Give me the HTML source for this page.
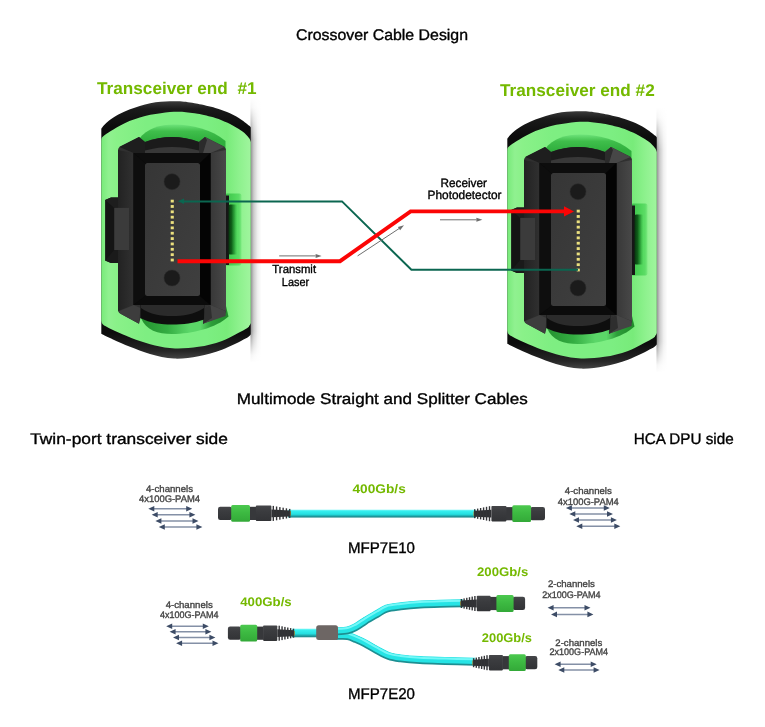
<!DOCTYPE html>
<html><head><meta charset="utf-8"><title>Crossover Cable Design</title>
<style>
html,body{margin:0;padding:0;background:#fff;}
svg{display:block;will-change:transform;font-family:"Liberation Sans",sans-serif;}
text{text-rendering:geometricPrecision;}
</style></head><body>
<svg width="765" height="727" viewBox="0 0 765 727">
<defs>
<linearGradient id="gbody" x1="0" y1="0" x2="0" y2="1"><stop offset="0" stop-color="#454649"/><stop offset="0.35" stop-color="#3b3c3f"/><stop offset="1" stop-color="#323336"/></linearGradient>
<linearGradient id="ggreen" x1="0" y1="0" x2="0" y2="1"><stop offset="0" stop-color="#4cc94f"/><stop offset="0.45" stop-color="#3dba42"/><stop offset="1" stop-color="#33a938"/></linearGradient>
<linearGradient id="gcable" x1="0" y1="0" x2="0" y2="1"><stop offset="0" stop-color="#7af7f7"/><stop offset="0.2" stop-color="#35eeee"/><stop offset="0.58" stop-color="#25dfe0"/><stop offset="0.74" stop-color="#1fb6b9"/><stop offset="0.88" stop-color="#1d9194"/><stop offset="1" stop-color="#2a8c8e"/></linearGradient>
<linearGradient id="gshadow" x1="0" y1="0" x2="1" y2="0"><stop offset="0" stop-color="#000" stop-opacity="0.45"/><stop offset="0.3" stop-color="#000" stop-opacity="0.2"/><stop offset="0.65" stop-color="#000" stop-opacity="0.06"/><stop offset="1" stop-color="#000" stop-opacity="0"/></linearGradient>
<linearGradient id="gshv" x1="0" y1="0" x2="0" y2="1"><stop offset="0" stop-color="#fff" stop-opacity="1"/><stop offset="0.04" stop-color="#fff" stop-opacity="0.9"/><stop offset="0.16" stop-color="#fff" stop-opacity="0"/><stop offset="0.88" stop-color="#fff" stop-opacity="0"/><stop offset="0.97" stop-color="#fff" stop-opacity="0.9"/><stop offset="1" stop-color="#fff" stop-opacity="1"/></linearGradient>
<linearGradient id="gshell" x1="0" y1="0" x2="0" y2="1"><stop offset="0" stop-color="#3a3a3a"/><stop offset="0.03" stop-color="#1a1a1a"/><stop offset="0.1" stop-color="#0c0c0c"/><stop offset="0.9" stop-color="#0c0c0c"/><stop offset="0.97" stop-color="#262626"/><stop offset="1" stop-color="#444"/></linearGradient>
<linearGradient id="gdk1" x1="0" y1="0" x2="0" y2="1"><stop offset="0" stop-color="#6ee37a"/><stop offset="0.25" stop-color="#3fbe4b"/><stop offset="0.6" stop-color="#2fae3d"/></linearGradient>
<linearGradient id="gdk2" x1="0" y1="0" x2="1" y2="0"><stop offset="0" stop-color="#23902f"/><stop offset="0.3" stop-color="#34ad42"/><stop offset="0.55" stop-color="#5bd668"/><stop offset="0.68" stop-color="#5bd668"/><stop offset="0.8" stop-color="#2c9e39"/><stop offset="1" stop-color="#1f8a2a"/></linearGradient>
<linearGradient id="gnotchR" x1="0" y1="0" x2="1" y2="0"><stop offset="0" stop-color="#07350e" stop-opacity="1"/><stop offset="0.35" stop-color="#0d5a17" stop-opacity="0.95"/><stop offset="0.65" stop-color="#1f8a2c" stop-opacity="0.7"/><stop offset="1" stop-color="#3dbb4c" stop-opacity="0"/></linearGradient><linearGradient id="gnotchB" x1="0" y1="0" x2="1" y2="0"><stop offset="0" stop-color="#3cc04a"/><stop offset="0.6" stop-color="#4fd65a"/><stop offset="0.85" stop-color="#5cdc66"/><stop offset="1" stop-color="#7cea80"/></linearGradient>
<linearGradient id="gbevL" x1="0" y1="0" x2="1" y2="0"><stop offset="0" stop-color="#222"/><stop offset="1" stop-color="#303030"/></linearGradient>
<linearGradient id="gbevR" x1="0" y1="0" x2="1" y2="0"><stop offset="0" stop-color="#383838"/><stop offset="1" stop-color="#484848"/></linearGradient>
<linearGradient id="gfer" x1="0" y1="0" x2="1" y2="1"><stop offset="0" stop-color="#363636"/><stop offset="1" stop-color="#3f3f3f"/></linearGradient>
<linearGradient id="ggr1" x1="0" y1="0" x2="1" y2="0"><stop offset="0" stop-color="#78ea7a"/><stop offset="0.05" stop-color="#90f190"/><stop offset="0.1" stop-color="#8af189"/><stop offset="0.3" stop-color="#7eee82"/><stop offset="0.7" stop-color="#7cee82"/><stop offset="0.84" stop-color="#78eb7a"/><stop offset="0.92" stop-color="#8df18d"/><stop offset="1" stop-color="#a0f59e"/></linearGradient>

<g id="conn">
<rect x="250.5" y="98" width="11" height="264" fill="url(#gshadow)"/>
<rect x="250" y="97" width="12" height="266" fill="url(#gshv)"/>
<path d="M101.3,129.0 C101.5,128.7 101.0,128.7 102.2,127.4 C103.4,126.1 105.7,123.3 108.5,121.1 C111.3,118.9 115.4,116.2 118.9,114.3 C122.4,112.4 125.9,111.0 129.4,109.6 C132.9,108.2 136.3,107.0 139.8,105.9 C143.3,104.9 146.8,104.0 150.3,103.3 C153.8,102.6 157.4,102.1 160.7,101.8 C164.0,101.5 166.8,101.3 170.0,101.2 C173.2,101.1 177.0,101.1 180.0,101.3 C183.0,101.5 185.1,101.8 188.0,102.2 C190.9,102.6 193.0,102.8 197.6,103.8 C202.2,104.8 210.4,106.5 215.3,107.9 C220.2,109.3 223.1,110.3 227.0,112.0 C230.9,113.7 235.1,115.6 238.8,117.9 C242.5,120.2 247.4,124.1 249.4,125.8 C251.4,127.5 250.6,127.6 250.8,128.0 L250.8,334.4 C249.9,335.1 250.4,335.9 245.6,338.5 C240.8,341.1 229.8,346.8 222.0,349.7 C214.2,352.6 206.5,354.7 198.5,356.2 C190.5,357.7 182.1,359.0 174.0,358.6 C165.9,358.2 157.3,356.0 150.0,354.0 C142.7,352.0 136.2,349.2 130.0,346.8 C123.8,344.4 117.8,341.7 113.0,339.5 C108.2,337.3 103.2,334.8 101.3,333.8 Z" fill="url(#gshell)"/>
<path d="M101.3,141.0 C101.5,140.4 101.0,138.7 102.2,137.3 C103.4,135.9 105.7,134.4 108.5,132.6 C111.3,130.8 115.4,128.2 118.9,126.3 C122.4,124.4 125.9,122.6 129.4,121.1 C132.9,119.6 136.3,118.5 139.8,117.4 C143.3,116.4 146.8,115.5 150.3,114.8 C153.8,114.1 157.4,113.8 160.7,113.3 C164.0,112.8 166.8,112.3 170.0,112.0 C173.2,111.7 177.0,111.6 180.0,111.7 C183.0,111.8 185.1,112.1 188.0,112.4 C190.9,112.8 193.0,112.9 197.6,113.8 C202.2,114.7 210.4,116.4 215.3,117.9 C220.2,119.4 223.1,120.7 227.0,122.6 C230.9,124.5 235.7,127.1 238.8,129.1 C242.0,131.1 244.1,132.8 245.9,134.4 C247.7,136.0 248.6,137.2 249.4,138.5 C250.2,139.8 250.6,141.4 250.8,142.0 L250.8,323 C250.6,323.4 250.4,324.5 249.5,325.5 C248.6,326.5 250.2,326.4 245.6,329.0 C241.0,331.6 229.8,337.9 222.0,340.9 C214.2,343.9 206.3,345.6 198.5,346.8 C190.7,348.1 182.2,348.6 175.0,348.4 C167.8,348.2 161.5,346.9 155.0,345.5 C148.5,344.1 142.1,341.9 136.0,339.8 C129.9,337.7 123.3,334.7 118.5,332.6 C113.7,330.5 109.7,328.4 107.0,327.0 C104.3,325.6 103.5,325.1 102.5,324.0 C101.5,322.9 101.5,321.1 101.3,320.5 Z" fill="url(#ggr1)"/>
<path d="M139,139 C147,128.500 160,124.500 174,124.500 C192,124.500 212,129.500 225.500,141 L225.500,152 L139,152 Z" fill="url(#gdk1)"/>
<path d="M141,318 C146,330.500 158,334 172,334 C192,334 216,328 228.500,316.500 L226,306 L141,306 Z" fill="url(#gdk2)"/>
<rect x="225" y="193.500" width="16.500" height="72" rx="2" fill="url(#gnotchB)"/>
<rect x="225" y="195.500" width="4" height="69.500" fill="#161616"/>
<rect x="228.500" y="204.500" width="9" height="50" rx="1.500" fill="url(#gnotchR)"/>
<path d="M105.100,200 L111,197.400 L119,197.400 V263 L111,263 L105.100,260.500 Z" fill="#141414"/>
<path d="M105.100,200 L111,197.400 L119,197.400 L119,207.900 L114.200,207.900 Z" fill="#1d1d1d"/>
<path d="M105.100,260.500 L111,263 L119,263 L119,250 L114.200,250 Z" fill="#1a1a1a"/>
<path d="M118,150.500 Q118,147.500 121,146 L139,137 L145,142 C154,138.500 163,137 172,137 C181,137 190,138.500 199,142 L205,137 L223,146 Q226,147.500 226,150.500 V310.500 Q226,314 223,315.200 L203,323.800 L204,318 C194,321 183,322.500 172,322.500 C161,322.500 150,321 140.500,318 L139,323.800 L121,314 Q118,312.500 118,309.500 Z" fill="#303030"/>
<path d="M118,150 L133.500,153 V305 L118,311 Z" fill="url(#gbevL)"/>
<path d="M226,150 L210.500,153 V305 L226,311 Z" fill="url(#gbevR)"/>
<path d="M139,137 L145,142 L145,153 L133.500,153 L119.500,147 Z" fill="#1e1e1e"/>
<path d="M205,137 L199,142 L199,153 L210.500,153 L224.500,147 Z" fill="#474747"/>
<path d="M205,137 L199,142 L199,153 L203,153 L207,140 Z" fill="#2b2b2b"/>
<path d="M139,323.800 L140.500,308 L133.500,305 L118.500,311.500 L121,314 Z" fill="#3d3d3d"/>
<path d="M203,323.800 L204.400,308 L210.500,305 L225.600,311 L225.600,316 Z" fill="#444"/>
<path d="M203,323.800 L204.400,308 L210.500,305 L212,318 Z" fill="#2e2e2e"/>
<path d="M145,142 C154,138.500 163,137 172,137 C181,137 190,138.500 199,142 L199,153 L145,153 Z" fill="#1b1b1b"/>
<path d="M145,150.500 C154,148 163,147 172,147 C181,147 190,148 199,150.500 L199,153.500 L145,153.500 Z" fill="#383838"/>
<path d="M140.500,318 C150,323 161,324.600 172,324.600 C183,324.600 194,323.500 204,319.500 L204.400,305 L140.500,305 Z" fill="#0e0e0e"/>
<path d="M141,308 C150,314.500 161,316 172,316 C183,316 194,314.500 204,308 L204,305 L141,305 Z" fill="#2b2b2b"/>
<rect x="133.500" y="153" width="77" height="152" fill="#060606"/>
<path d="M133.500,153 L210.500,153 L200,163 L145,163 Z" fill="#0d0d0d"/>
<path d="M133.500,305 L210.500,305 L200,296 L145,296 Z" fill="#0b0b0b"/>
<path d="M133.500,153 L145,163 L145,296 L133.500,305 Z" fill="#0e0e0e"/>
<path d="M210.500,153 L200,163 L200,296 L210.500,305 Z" fill="#040404"/>
<rect x="114.200" y="207.900" width="14.800" height="42.100" fill="#3b3b3b"/>
<rect x="145" y="163" width="55" height="133" rx="2.500" fill="url(#gfer)"/>
<circle cx="172" cy="181.700" r="8" fill="#1b1b1b" stroke="#2c2c2c" stroke-width="0.600"/>
<circle cx="172" cy="278" r="8" fill="#1b1b1b" stroke="#2c2c2c" stroke-width="0.600"/>
<g fill="#ebe07e">
<rect x="170.700" y="199.70" width="3.100" height="2.800"/>
<rect x="170.700" y="205.06" width="3.100" height="2.800"/>
<rect x="170.700" y="210.41" width="3.100" height="2.800"/>
<rect x="170.700" y="215.77" width="3.100" height="2.800"/>
<rect x="170.700" y="221.12" width="3.100" height="2.800"/>
<rect x="170.700" y="226.48" width="3.100" height="2.800"/>
<rect x="170.700" y="231.83" width="3.100" height="2.800"/>
<rect x="170.700" y="237.19" width="3.100" height="2.800"/>
<rect x="170.700" y="242.54" width="3.100" height="2.800"/>
<rect x="170.700" y="247.90" width="3.100" height="2.800"/>
<rect x="170.700" y="253.25" width="3.100" height="2.800"/>
<rect x="170.700" y="258.61" width="3.100" height="2.800"/>
</g></g>
</defs>
<rect width="765" height="727" fill="#fff"/>
<g>

<text x="296" y="39.8" font-size="15.4" font-weight="400" fill="#000" stroke="#000" stroke-width="0.35" text-anchor="start" textLength="172" lengthAdjust="spacingAndGlyphs" xml:space="preserve">Crossover Cable Design</text>
<text x="97" y="93.5" font-size="17" font-weight="700" fill="#74b900" text-anchor="start" textLength="159.5" lengthAdjust="spacingAndGlyphs" xml:space="preserve">Transceiver end  #1</text>
<text x="500" y="96.4" font-size="17" font-weight="700" fill="#74b900" text-anchor="start" textLength="154.7" lengthAdjust="spacingAndGlyphs" xml:space="preserve">Transceiver end #2</text>
<use href="#conn"/>
<use href="#conn" transform="translate(406,10)"/>
<path d="M183,201.4 H342 L411.4,269.8 H578" stroke="#0b6650" stroke-width="2" fill="none" stroke-linejoin="miter"/>
<path d="M178,201.2 l6,-2.800 v5.600 z" fill="#0b6650"/>
<path d="M177.500,261.200 H340 L410.600,211.400 H566" stroke="#fb0505" stroke-width="3.9" fill="none" stroke-linejoin="miter"/>
<path d="M574,211.400 l-10,-5.200 v10.400 z" fill="#fb0505"/>
<path d="M279.2,255.9 L315.6,255.9" stroke="#6e6e6e" stroke-width="1" fill="none"/><path d="M321.6,255.9 L315.6,257.9 L315.6,253.9 z" fill="#6e6e6e"/>
<path d="M357.6,255.9 L399.0,228.6" stroke="#6e6e6e" stroke-width="1" fill="none"/><path d="M404.0,225.3 L400.1,230.3 L397.9,226.9 z" fill="#6e6e6e"/>
<path d="M440.0,219.8 L476.4,219.8" stroke="#6e6e6e" stroke-width="1" fill="none"/><path d="M482.4,219.8 L476.4,221.8 L476.4,217.8 z" fill="#6e6e6e"/>
<text x="294.2" y="273.3" font-size="11.8" font-weight="400" fill="#000" stroke="#000" stroke-width="0.35" text-anchor="middle" textLength="43.7" lengthAdjust="spacingAndGlyphs" xml:space="preserve">Transmit</text>
<text x="295.5" y="285.7" font-size="11.8" font-weight="400" fill="#000" stroke="#000" stroke-width="0.35" text-anchor="middle" textLength="27.3" lengthAdjust="spacingAndGlyphs" xml:space="preserve">Laser</text>
<text x="463.7" y="186.7" font-size="12" font-weight="400" fill="#000" stroke="#000" stroke-width="0.35" text-anchor="middle" textLength="46.5" lengthAdjust="spacingAndGlyphs" xml:space="preserve">Receiver</text>
<text x="464.5" y="199" font-size="12" font-weight="400" fill="#000" stroke="#000" stroke-width="0.35" text-anchor="middle" textLength="74" lengthAdjust="spacingAndGlyphs" xml:space="preserve">Photodetector</text>
<text x="236.7" y="404.4" font-size="15.4" font-weight="400" fill="#000" stroke="#000" stroke-width="0.35" text-anchor="start" textLength="291" lengthAdjust="spacingAndGlyphs" xml:space="preserve">Multimode Straight and Splitter Cables</text>
<text x="30.2" y="443.6" font-size="15.4" font-weight="400" fill="#000" stroke="#000" stroke-width="0.35" text-anchor="start" textLength="197.7" lengthAdjust="spacingAndGlyphs" xml:space="preserve">Twin-port transceiver side</text>
<text x="633.7" y="443.6" font-size="15.4" font-weight="400" fill="#000" stroke="#000" stroke-width="0.35" text-anchor="start" textLength="100" lengthAdjust="spacingAndGlyphs" xml:space="preserve">HCA DPU side</text>
<text x="348" y="553" font-size="15.4" font-weight="400" fill="#000" stroke="#000" stroke-width="0.35" text-anchor="start" textLength="67" lengthAdjust="spacingAndGlyphs" xml:space="preserve">MFP7E10</text>
<text x="348" y="699" font-size="15.4" font-weight="400" fill="#000" stroke="#000" stroke-width="0.35" text-anchor="start" textLength="67" lengthAdjust="spacingAndGlyphs" xml:space="preserve">MFP7E20</text>
<text x="352.5" y="493" font-size="12.5" font-weight="700" fill="#74b900" text-anchor="start" textLength="53.3" lengthAdjust="spacingAndGlyphs" xml:space="preserve">400Gb/s</text>
<text x="240.2" y="606.1" font-size="12.5" font-weight="700" fill="#74b900" text-anchor="start" textLength="51.5" lengthAdjust="spacingAndGlyphs" xml:space="preserve">400Gb/s</text>
<text x="477" y="576.4" font-size="12.5" font-weight="700" fill="#74b900" text-anchor="start" textLength="51.2" lengthAdjust="spacingAndGlyphs" xml:space="preserve">200Gb/s</text>
<text x="481.8" y="641.5" font-size="12.5" font-weight="700" fill="#74b900" text-anchor="start" textLength="50.2" lengthAdjust="spacingAndGlyphs" xml:space="preserve">200Gb/s</text>
<text x="169.5" y="491.8" font-size="9.5" font-weight="400" fill="#444" stroke="#444" stroke-width="0.35" text-anchor="middle" textLength="47" lengthAdjust="spacingAndGlyphs" xml:space="preserve">4-channels</text>
<text x="169.5" y="502.2" font-size="9.5" font-weight="400" fill="#444" stroke="#444" stroke-width="0.35" text-anchor="middle" textLength="61" lengthAdjust="spacingAndGlyphs" xml:space="preserve">4x100G-PAM4</text>
<text x="588.3" y="494.4" font-size="9.5" font-weight="400" fill="#444" stroke="#444" stroke-width="0.35" text-anchor="middle" textLength="47" lengthAdjust="spacingAndGlyphs" xml:space="preserve">4-channels</text>
<text x="588.3" y="504.8" font-size="9.5" font-weight="400" fill="#444" stroke="#444" stroke-width="0.35" text-anchor="middle" textLength="61" lengthAdjust="spacingAndGlyphs" xml:space="preserve">4x100G-PAM4</text>
<text x="189.2" y="608" font-size="9.5" font-weight="400" fill="#444" stroke="#444" stroke-width="0.35" text-anchor="middle" textLength="47" lengthAdjust="spacingAndGlyphs" xml:space="preserve">4-channels</text>
<text x="189.2" y="617.9" font-size="9.5" font-weight="400" fill="#444" stroke="#444" stroke-width="0.35" text-anchor="middle" textLength="58.5" lengthAdjust="spacingAndGlyphs" xml:space="preserve">4x100G-PAM4</text>
<text x="571.4" y="587.3" font-size="9.5" font-weight="400" fill="#444" stroke="#444" stroke-width="0.35" text-anchor="middle" textLength="47" lengthAdjust="spacingAndGlyphs" xml:space="preserve">2-channels</text>
<text x="571.4" y="597.6" font-size="9.5" font-weight="400" fill="#444" stroke="#444" stroke-width="0.35" text-anchor="middle" textLength="58.5" lengthAdjust="spacingAndGlyphs" xml:space="preserve">2x100G-PAM4</text>
<text x="578.8" y="645.9" font-size="9.5" font-weight="400" fill="#444" stroke="#444" stroke-width="0.35" text-anchor="middle" textLength="47" lengthAdjust="spacingAndGlyphs" xml:space="preserve">2-channels</text>
<text x="578.8" y="655.4" font-size="9.5" font-weight="400" fill="#444" stroke="#444" stroke-width="0.35" text-anchor="middle" textLength="58.5" lengthAdjust="spacingAndGlyphs" xml:space="preserve">2x100G-PAM4</text>
<path d="M153.3,508.8 H187.2" stroke="#8490a6" stroke-width="1.5" fill="none"/><path d="M148.3,508.8 l6,-2.8 v5.6 z M192.2,508.8 l-6,-2.8 v5.6 z" fill="#3d4c66"/>
<path d="M156.7,514.8 H190.4" stroke="#8490a6" stroke-width="1.5" fill="none"/><path d="M151.7,514.8 l6,-2.8 v5.6 z M195.4,514.8 l-6,-2.8 v5.6 z" fill="#3d4c66"/>
<path d="M160.4,521 H193.5" stroke="#8490a6" stroke-width="1.5" fill="none"/><path d="M155.4,521 l6,-2.8 v5.6 z M198.5,521 l-6,-2.8 v5.6 z" fill="#3d4c66"/>
<path d="M163.8,527 H197.4" stroke="#8490a6" stroke-width="1.5" fill="none"/><path d="M158.8,527 l6,-2.8 v5.6 z M202.4,527 l-6,-2.8 v5.6 z" fill="#3d4c66"/>
<path d="M570.9,508 H604.8" stroke="#8490a6" stroke-width="1.5" fill="none"/><path d="M565.9,508 l6,-2.8 v5.6 z M609.8,508 l-6,-2.8 v5.6 z" fill="#3d4c66"/>
<path d="M574.3,514 H608" stroke="#8490a6" stroke-width="1.5" fill="none"/><path d="M569.3,514 l6,-2.8 v5.6 z M613,514 l-6,-2.8 v5.6 z" fill="#3d4c66"/>
<path d="M578,520 H611.9" stroke="#8490a6" stroke-width="1.5" fill="none"/><path d="M573,520 l6,-2.8 v5.6 z M616.9,520 l-6,-2.8 v5.6 z" fill="#3d4c66"/>
<path d="M581.3,526.3 H615.3" stroke="#8490a6" stroke-width="1.5" fill="none"/><path d="M576.3,526.3 l6,-2.8 v5.6 z M620.3,526.3 l-6,-2.8 v5.6 z" fill="#3d4c66"/>
<path d="M171.2,626.3 H203.8" stroke="#8490a6" stroke-width="1.5" fill="none"/><path d="M166.2,626.3 l6,-2.8 v5.6 z M208.8,626.3 l-6,-2.8 v5.6 z" fill="#3d4c66"/>
<path d="M174.6,631.8 H206.4" stroke="#8490a6" stroke-width="1.5" fill="none"/><path d="M169.6,631.8 l6,-2.8 v5.6 z M211.4,631.8 l-6,-2.8 v5.6 z" fill="#3d4c66"/>
<path d="M178,637.5 H210.4" stroke="#8490a6" stroke-width="1.5" fill="none"/><path d="M173,637.5 l6,-2.8 v5.6 z M215.4,637.5 l-6,-2.8 v5.6 z" fill="#3d4c66"/>
<path d="M181.1,643.3 H213.5" stroke="#8490a6" stroke-width="1.5" fill="none"/><path d="M176.1,643.3 l6,-2.8 v5.6 z M218.5,643.3 l-6,-2.8 v5.6 z" fill="#3d4c66"/>
<path d="M552.6,607.8 H585.5" stroke="#8490a6" stroke-width="1.5" fill="none"/><path d="M547.6,607.8 l6,-2.8 v5.6 z M590.5,607.8 l-6,-2.8 v5.6 z" fill="#3d4c66"/>
<path d="M556,614.4 H588.4" stroke="#8490a6" stroke-width="1.5" fill="none"/><path d="M551,614.4 l6,-2.8 v5.6 z M593.4,614.4 l-6,-2.8 v5.6 z" fill="#3d4c66"/>
<path d="M559.6,664.2 H591.7" stroke="#8490a6" stroke-width="1.5" fill="none"/><path d="M554.6,664.2 l6,-2.8 v5.6 z M596.7,664.2 l-6,-2.8 v5.6 z" fill="#3d4c66"/>
<path d="M563.3,670 H594.6" stroke="#8490a6" stroke-width="1.5" fill="none"/><path d="M558.3,670 l6,-2.8 v5.6 z M599.6,670 l-6,-2.8 v5.6 z" fill="#3d4c66"/>
<rect x="288" y="509.700" width="188" height="7.900" fill="url(#gcable)"/>
<path d="M271.4,509.5 L290.0,510.4 V516.4 L271.4,517.3 z" fill="#303134"/><rect x="289.7" y="511.2" width="1.2" height="4.4" fill="#b98a1e" rx="0"/><rect x="272.60" y="505.9" width="1.4" height="15.0" fill="#333437"/><rect x="275.88" y="506.5" width="1.4" height="13.8" fill="#333437"/><rect x="279.16" y="507.1" width="1.4" height="12.6" fill="#333437"/><rect x="282.44" y="507.7" width="1.4" height="11.4" fill="#333437"/><rect x="285.72" y="508.3" width="1.4" height="10.2" fill="#333437"/><rect x="289.00" y="508.9" width="1.4" height="9.0" fill="#333437"/><rect x="218.0" y="506.7" width="14.2" height="13.2" fill="url(#gbody)" rx="2.2"/><rect x="249.0" y="506.8" width="7.4" height="13.2" fill="#37383b" rx="0"/><rect x="255.9" y="505.6" width="15.5" height="15.5" fill="url(#gbody)" rx="0.8"/><rect x="231.2" y="504.9" width="18.8" height="16.9" fill="url(#ggreen)" rx="1.5"/>
<path d="M491.4,509.8 L474.4,510.7 V516.7 L491.4,517.6 z" fill="#303134"/><rect x="473.5" y="511.5" width="1.2" height="4.4" fill="#b98a1e" rx="0"/><rect x="488.80" y="506.2" width="1.4" height="15.0" fill="#333437"/><rect x="485.84" y="506.8" width="1.4" height="13.8" fill="#333437"/><rect x="482.88" y="507.4" width="1.4" height="12.6" fill="#333437"/><rect x="479.92" y="508.0" width="1.4" height="11.4" fill="#333437"/><rect x="476.96" y="508.6" width="1.4" height="10.2" fill="#333437"/><rect x="474.00" y="509.2" width="1.4" height="9.0" fill="#333437"/><rect x="530.1" y="507.0" width="14.9" height="13.2" fill="url(#gbody)" rx="2.2"/><rect x="505.9" y="507.1" width="7.4" height="13.2" fill="#37383b" rx="0"/><rect x="491.4" y="505.9" width="15.0" height="15.5" fill="url(#gbody)" rx="0.8"/><rect x="512.3" y="505.2" width="18.8" height="16.9" fill="url(#ggreen)" rx="1.5"/>
<rect x="292" y="628.700" width="26" height="8.600" fill="url(#gcable)"/>
<path d="M336.0,635.5 C337.9,635.5 344.3,635.1 347.6,635.6 C350.9,636.1 352.9,637.4 355.9,638.6 C358.8,639.8 361.8,641.1 365.3,643.0 C368.8,644.9 373.1,647.6 377.0,649.7 C380.9,651.8 384.9,654.2 388.8,655.6 C392.7,657.0 395.4,657.3 400.6,658.0 C405.8,658.7 412.6,659.3 420.0,659.7 C427.4,660.1 435.8,660.3 445.0,660.6 C454.2,660.9 470.0,661.2 475.0,661.3" stroke="#1d8f92" stroke-width="7.4" fill="none" transform="translate(0,0.7)"/>
<path d="M336.0,635.5 C337.9,635.5 344.3,635.1 347.6,635.6 C350.9,636.1 352.9,637.4 355.9,638.6 C358.8,639.8 361.8,641.1 365.3,643.0 C368.8,644.9 373.1,647.6 377.0,649.7 C380.9,651.8 384.9,654.2 388.8,655.6 C392.7,657.0 395.4,657.3 400.6,658.0 C405.8,658.7 412.6,659.3 420.0,659.7 C427.4,660.1 435.8,660.3 445.0,660.6 C454.2,660.9 470.0,661.2 475.0,661.3" stroke="#26e4e5" stroke-width="6.2" fill="none" transform="translate(0,-0.5)"/>
<path d="M336.0,635.5 C337.9,635.5 344.3,635.1 347.6,635.6 C350.9,636.1 352.9,637.4 355.9,638.6 C358.8,639.8 361.8,641.1 365.3,643.0 C368.8,644.9 373.1,647.6 377.0,649.7 C380.9,651.8 384.9,654.2 388.8,655.6 C392.7,657.0 395.4,657.3 400.6,658.0 C405.8,658.7 412.6,659.3 420.0,659.7 C427.4,660.1 435.8,660.3 445.0,660.6 C454.2,660.9 470.0,661.2 475.0,661.3" stroke="#74f8f8" stroke-width="2" fill="none" transform="translate(0,-2)"/>
<path d="M336.0,630.9 C337.9,630.8 344.3,630.7 347.6,630.0 C350.9,629.3 352.9,628.1 355.9,626.5 C358.8,624.9 361.8,622.5 365.3,620.3 C368.8,618.1 373.5,615.5 377.0,613.5 C380.5,611.5 382.6,609.5 386.5,608.2 C390.4,606.9 395.0,606.6 400.6,605.9 C406.2,605.2 413.4,604.5 420.0,604.1 C426.6,603.7 432.8,603.5 440.0,603.3 C447.2,603.1 459.2,602.9 463.0,602.8" stroke="#1d8f92" stroke-width="7.4" fill="none" transform="translate(0,0.7)"/>
<path d="M336.0,630.9 C337.9,630.8 344.3,630.7 347.6,630.0 C350.9,629.3 352.9,628.1 355.9,626.5 C358.8,624.9 361.8,622.5 365.3,620.3 C368.8,618.1 373.5,615.5 377.0,613.5 C380.5,611.5 382.6,609.5 386.5,608.2 C390.4,606.9 395.0,606.6 400.6,605.9 C406.2,605.2 413.4,604.5 420.0,604.1 C426.6,603.7 432.8,603.5 440.0,603.3 C447.2,603.1 459.2,602.9 463.0,602.8" stroke="#26e4e5" stroke-width="6.2" fill="none" transform="translate(0,-0.5)"/>
<path d="M336.0,630.9 C337.9,630.8 344.3,630.7 347.6,630.0 C350.9,629.3 352.9,628.1 355.9,626.5 C358.8,624.9 361.8,622.5 365.3,620.3 C368.8,618.1 373.5,615.5 377.0,613.5 C380.5,611.5 382.6,609.5 386.5,608.2 C390.4,606.9 395.0,606.6 400.6,605.9 C406.2,605.2 413.4,604.5 420.0,604.1 C426.6,603.7 432.8,603.5 440.0,603.3 C447.2,603.1 459.2,602.9 463.0,602.8" stroke="#74f8f8" stroke-width="2" fill="none" transform="translate(0,-2)"/>
<rect x="316.200" y="625.300" width="21.800" height="14.700" rx="2.500" fill="#6d6664"/>
<path d="M277.3,629.3 L293.8,630.2 V636.2 L277.3,637.1 z" fill="#303134"/><rect x="293.5" y="631.0" width="1.2" height="4.4" fill="#b98a1e" rx="0"/><rect x="278.50" y="625.7" width="1.4" height="15.0" fill="#333437"/><rect x="281.36" y="626.3" width="1.4" height="13.8" fill="#333437"/><rect x="284.22" y="626.9" width="1.4" height="12.6" fill="#333437"/><rect x="287.08" y="627.5" width="1.4" height="11.4" fill="#333437"/><rect x="289.94" y="628.1" width="1.4" height="10.2" fill="#333437"/><rect x="292.80" y="628.7" width="1.4" height="9.0" fill="#333437"/><rect x="227.9" y="626.5" width="13.3" height="13.2" fill="url(#gbody)" rx="2.2"/><rect x="256.2" y="626.6" width="7.4" height="13.2" fill="#37383b" rx="0"/><rect x="263.1" y="625.4" width="14.2" height="15.5" fill="url(#gbody)" rx="0.8"/><rect x="240.2" y="624.7" width="17.0" height="16.9" fill="url(#ggreen)" rx="1.5"/>
<path d="M476.8,599.6 L461.1,600.5 V606.5 L476.8,607.4 z" fill="#303134"/><rect x="460.2" y="601.3" width="1.2" height="4.4" fill="#b98a1e" rx="0"/><rect x="474.20" y="596.0" width="1.4" height="15.0" fill="#333437"/><rect x="471.50" y="596.6" width="1.4" height="13.8" fill="#333437"/><rect x="468.80" y="597.2" width="1.4" height="12.6" fill="#333437"/><rect x="466.10" y="597.8" width="1.4" height="11.4" fill="#333437"/><rect x="463.40" y="598.4" width="1.4" height="10.2" fill="#333437"/><rect x="460.70" y="599.0" width="1.4" height="9.0" fill="#333437"/><rect x="512.6" y="596.8" width="12.5" height="13.2" fill="url(#gbody)" rx="2.2"/><rect x="490.0" y="596.9" width="7.4" height="13.2" fill="#37383b" rx="0"/><rect x="476.8" y="595.7" width="13.7" height="15.5" fill="url(#gbody)" rx="0.8"/><rect x="496.4" y="595.0" width="17.2" height="16.9" fill="url(#ggreen)" rx="1.5"/>
<path d="M488.9,658.8 L473.3,659.7 V665.7 L488.9,666.6 z" fill="#303134"/><rect x="472.4" y="660.5" width="1.2" height="4.4" fill="#b98a1e" rx="0"/><rect x="486.30" y="655.2" width="1.4" height="15.0" fill="#333437"/><rect x="483.62" y="655.8" width="1.4" height="13.8" fill="#333437"/><rect x="480.94" y="656.4" width="1.4" height="12.6" fill="#333437"/><rect x="478.26" y="657.0" width="1.4" height="11.4" fill="#333437"/><rect x="475.58" y="657.6" width="1.4" height="10.2" fill="#333437"/><rect x="472.90" y="658.2" width="1.4" height="9.0" fill="#333437"/><rect x="524.8" y="656.0" width="12.5" height="13.2" fill="url(#gbody)" rx="2.2"/><rect x="502.4" y="656.1" width="7.4" height="13.2" fill="#37383b" rx="0"/><rect x="488.9" y="654.9" width="14.0" height="15.5" fill="url(#gbody)" rx="0.8"/><rect x="508.8" y="654.2" width="17.0" height="16.9" fill="url(#ggreen)" rx="1.5"/>
</g></svg></body></html>
